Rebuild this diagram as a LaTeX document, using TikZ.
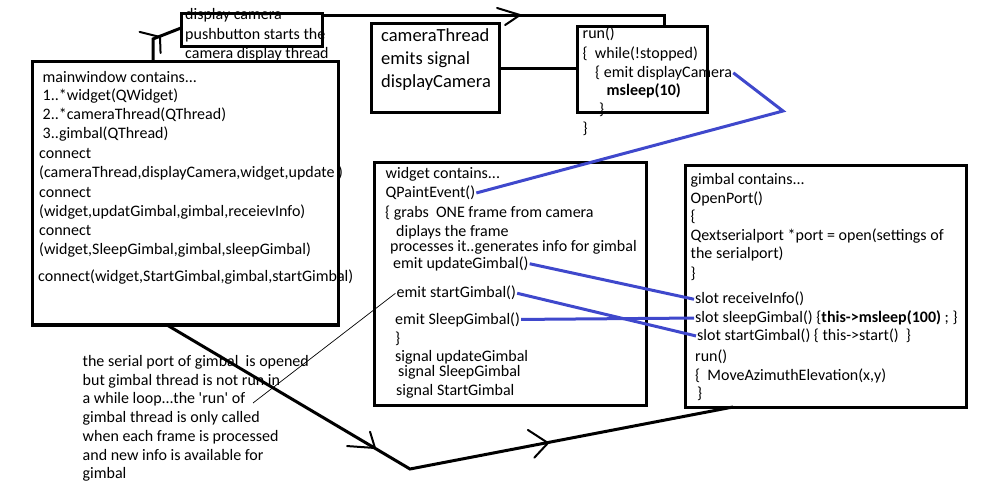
\documentclass[tikz,border=0pt]{standalone}
\usepackage{fontspec}
\setmainfont{Carlito}
\usetikzlibrary{calc}
\definecolor{sigblue}{RGB}{63,72,204}
\tikzstyle{box}=[draw,line width=3pt,inner sep=0pt,outer sep=0pt,anchor=north west]
\tikzstyle{txt}=[anchor=base west,inner sep=1pt,font=\fontsize{16}{19}\selectfont]
\tikzstyle{bigtxt}=[txt,font=\fontsize{18.5}{23}\selectfont]
\tikzstyle{conn}=[line width=3pt]
\tikzstyle{sig}=[draw=sigblue,line width=3pt]
\tikzstyle{scrawl}=[line width=2pt,line cap=round]
\tikzstyle{pointer}=[line width=0.7pt]
\newcommand{\putline}[4][txt]{\node[#1] (#2) at (#3) {#4};}
\newcommand{\chevron}[5]{% Syntax: (tip) (first arm angle:length) (second arm angle:length)
    \draw[scrawl] ($(#1)+(#2:#3)$) -- (#1) -- ($(#1)+(#4:#5)$);}
\begin{document}
\begin{tikzpicture}[x=1pt,y=-1pt]
\useasboundingbox (0,0) rectangle (994,489);
% boxes
\node[box,minimum width=306pt,minimum height=263pt] (mainwin) at (32,62) {};
\node[box,minimum width=141pt,minimum height=33pt] (dispbtn) at (181,13.5) {};
\node[box,minimum width=128pt,minimum height=89pt] (camthread) at (371,24) {};
\node[box,minimum width=130pt,minimum height=86pt] (runbox) at (577,27) {};
\node[box,minimum width=272pt,minimum height=242pt] (widget) at (374,163) {};
\node[box,minimum width=281pt,minimum height=241pt] (gimbal) at (685,166) {};
% mainwindow
\putline{mw1}{41.5,82.5}{mainwindow contains...}
\putline{mw2}{41.5,101}{1..*widget(QWidget)}
\putline{mw3}{41.5,120}{2..*cameraThread(QThread)}
\putline{mw4}{41.5,139}{3..gimbal(QThread)}
\putline{mw5}{38,159}{connect}
\putline{mw6}{38,178}{(cameraThread,displayCamera,widget,update )}
\putline{mw7}{38,197.5}{connect}
\putline{mw8}{38,216.5}{(widget,updatGimbal,gimbal,receievInfo)}
\putline{mw9}{38,235.5}{connect}
\putline{mw10}{38,254.5}{(widget,SleepGimbal,gimbal,sleepGimbal)}
\putline{mw11}{37,281.5}{connect(widget,StartGimbal,gimbal,startGimbal)}
% push button
\putline{btn1}{184,20}{display camera}
\putline{btn2}{184,39.3}{pushbutton starts the}
\putline{btn3}{184,58.3}{camera display thread}
% camera thread
\putline[bigtxt]{ct1}{380,41.7}{cameraThread}
\putline[bigtxt]{ct2}{380,65}{emits signal}
\putline[bigtxt]{ct3}{380,87.3}{displayCamera}
% run loop
\putline{run1}{581.5,38.3}{run()}
\putline{run2}{581.5,58.3}{\{\ \ while(!stopped)}
\putline{runemit}{594,77.3}{\{ emit displayCamera}
\putline{run4}{605.5,96}{\textbf{msleep(10)}}
\putline{run5}{598,115}{\}}
\putline{run6}{581.5,133.5}{\}}
% widget
\putline{wg1}{384.5,179}{widget contains...}
\putline{paint}{384.5,197.7}{QPaintEvent()}
\putline{wg3}{384,217.7}{\{ grabs \ ONE frame from camera}
\putline{wg4}{395,236.7}{diplays the frame}
\putline{wg5}{389,251.7}{processes it..generates info for gimbal}
\putline{updemit}{392,268.3}{emit updateGimbal()}
\putline{startemit}{395.5,298}{emit startGimbal()}
\putline{sleepemit}{394,324}{emit SleepGimbal()}
\putline{wg9}{394,343}{\}}
\putline{wg10}{394,361.7}{signal updateGimbal}
\putline{wg11}{397,376.7}{signal SleepGimbal}
\putline{wg12}{395,395}{signal StartGimbal}
% gimbal
\putline{gb1}{689.5,184.3}{gimbal contains...}
\putline{gb2}{689.5,203.3}{OpenPort()}
\putline{gb3}{689.5,222}{\{}
\putline{gb4}{689.5,241}{Qextserialport *port = open(settings of}
\putline{gb5}{689.5,259}{the serialport)}
\putline{gb6}{689.5,278.5}{\}}
\putline{recvslot}{694,304}{slot receiveInfo()}
\putline{sleepslot}{694,322.7}{slot sleepGimbal() \{\textbf{this->msleep(100)} ; \}}
\putline{startslot}{696,340.7}{slot startGimbal() \{ this->start() \ \}}
\putline{gb10}{694,361.7}{run()}
\putline{gb11}{694,380}{\{\ \ MoveAzimuthElevation(x,y)}
\putline{gb12}{696,398}{\}}
% note
\putline{note1}{81.5,366}{the serial port of gimbal \ is opened}
\putline{note2}{81.5,385}{but gimbal thread is not run in}
\putline{note3}{81.5,403.3}{a while loop...the \textquotesingle run\textquotesingle{} of}
\putline{note4}{81.5,422.7}{gimbal thread is only called}
\putline{note5}{81.5,441.7}{when each frame is processed}
\putline{note6}{81.5,460}{and new info is available for}
\putline{note7}{81.5,478.3}{gimbal}
% connectors
\coordinate (kink) at (783,111);
\coordinate (noteend) at (253,403);
\coordinate (vertex) at (410,469);
\draw[conn] ([xshift=121pt]mainwin.north west) -- ++(0,-23) -- ([yshift=2pt]dispbtn.west);
\draw[conn] ([yshift=-2pt]dispbtn.north east) -| ([xshift=-43pt]runbox.north east);
\draw[conn] (camthread.east) -- (camthread.east -| runbox.west);
\draw[conn] ([xshift=135pt]mainwin.south west) -- (vertex) -- ([xshift=48pt]gimbal.south west);
\draw[pointer] (startemit.west) -- (noteend);
\draw[sig] (runemit.east) -- (kink) -- (paint.east);
\draw[sig] (updemit.east) -- (recvslot.west);
\draw[sig] (sleepemit.east) -- (sleepslot.west);
\draw[sig] (startemit.east) -- (startslot.west);
% hand drawn arrow heads
\coordinate (tipA) at (160,37);
\coordinate (tipB) at (520,15);
\coordinate (tipC) at (375,448);
\coordinate (tipD) at (548,443);
\chevron{tipA}{194}{21}{88}{16}
\chevron{tipB}{197}{24}{146}{18}
\chevron{tipC}{184}{28}{253}{17}
\chevron{tipD}{213}{24}{133}{20}
\end{tikzpicture}
\end{document}
